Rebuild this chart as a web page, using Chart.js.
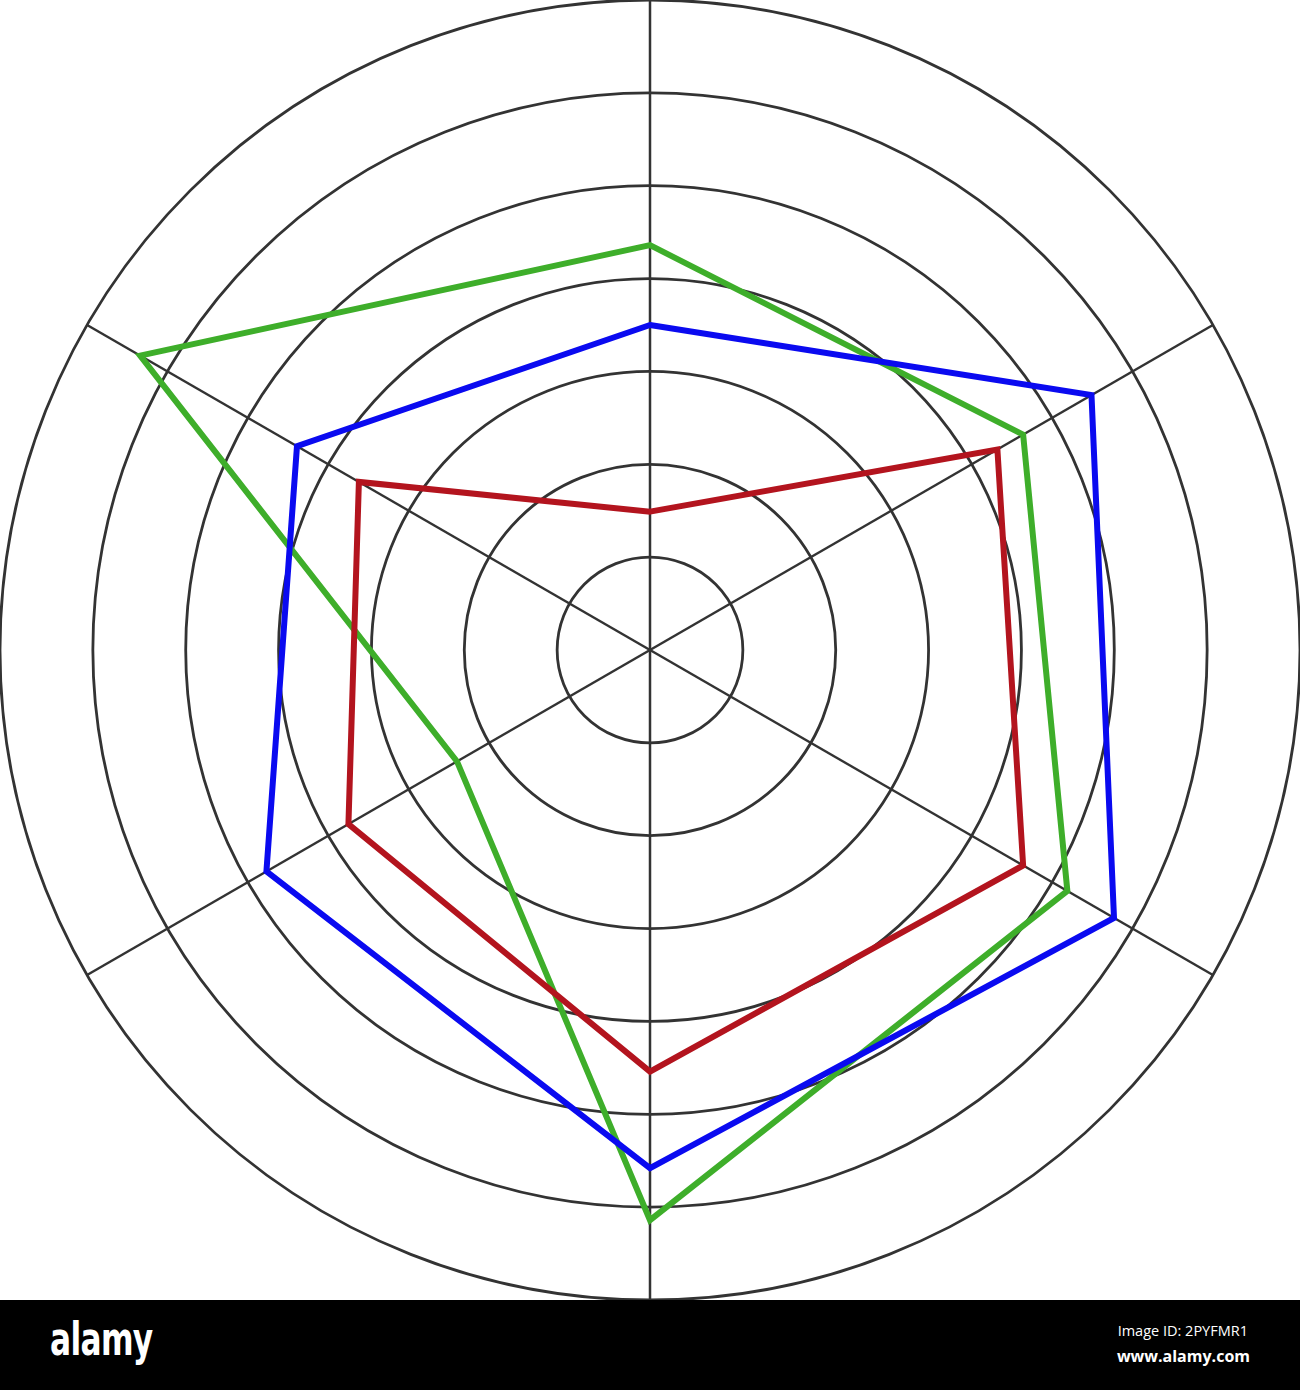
<!DOCTYPE html>
<html>
<head>
<meta charset="utf-8">
<script src="https://cdn.jsdelivr.net/npm/chart.js@4/dist/chart.umd.min.js"></script>
<style>
  html, body { margin: 0; padding: 0; background: #fff; }
  #wrap { width: 1300px; height: 1300px; position: relative; }
  #footer {
    width: 1300px; height: 90px; background: #000; position: relative;
    color: #fff; overflow: hidden;
  }
  #footer div { position: absolute; line-height: 1; white-space: nowrap; }
  #logo {
    left: 50px; top: 16px;
    font-family: "DejaVu Sans", sans-serif;
    font-weight: bold; font-size: 46px; letter-spacing: -1px;
    transform: scaleX(0.68); transform-origin: left top;
  }
  #imgid {
    right: 52px; top: 24px;
    font-family: "Open Sans", sans-serif;
    font-size: 14.5px;
  }
  #site {
    right: 50px; top: 48px;
    font-family: "Open Sans", sans-serif;
    font-weight: bold; font-size: 16px;
  }
</style>
</head>
<body>
<div id="wrap"><canvas id="chart" width="1300" height="1300"></canvas></div>
<div id="footer">
  <div id="logo">alamy</div>
  <div id="imgid">Image ID: 2PYFMR1</div>
  <div id="site">www.alamy.com</div>
</div>
<script>
// Spokes, clockwise from the top
const categories = ['1', '2', '3', '4', '5', '6'];

// Values (7 rings, 1 unit each)
const redValues   = [1.49, 4.32, 4.64, 4.54, 3.75, 3.62];
const blueValues  = [3.50, 5.49, 5.77, 5.58, 4.77, 4.39];
const greenValues = [4.36, 4.64, 5.19, 6.14, 2.40, 6.34];

const scaleMin = 0;
const scaleMax = 7;

function series(data, color) {
    return {
        data: data,
        borderColor: color,
        backgroundColor: 'transparent',
        borderWidth: 6,
        borderJoinStyle: 'miter',
        fill: false,
        pointRadius: 0,
        pointHoverRadius: 0
    };
}

const chart = new Chart(document.getElementById('chart'), {
    type: 'radar',
    data: {
        labels: categories,
        datasets: [
            series(redValues, '#b3141e'),
            series(blueValues, '#0a0af0'),
            series(greenValues, '#3eae2a')
        ]
    },
    options: {
        responsive: false,
        animation: false,
        devicePixelRatio: 1,
        layout: { padding: 0 },
        plugins: {
            legend: { display: false },
            tooltip: { enabled: false }
        },
        scales: {
            r: {
                min: scaleMin,
                max: scaleMax,
                ticks: { display: false, stepSize: 1 },
                pointLabels: { display: false },
                grid: { circular: true, color: '#333333', lineWidth: 2.8 },
                angleLines: { color: '#333333', lineWidth: 2.5 }
            }
        }
    }
});
</script>
</body>
</html>
